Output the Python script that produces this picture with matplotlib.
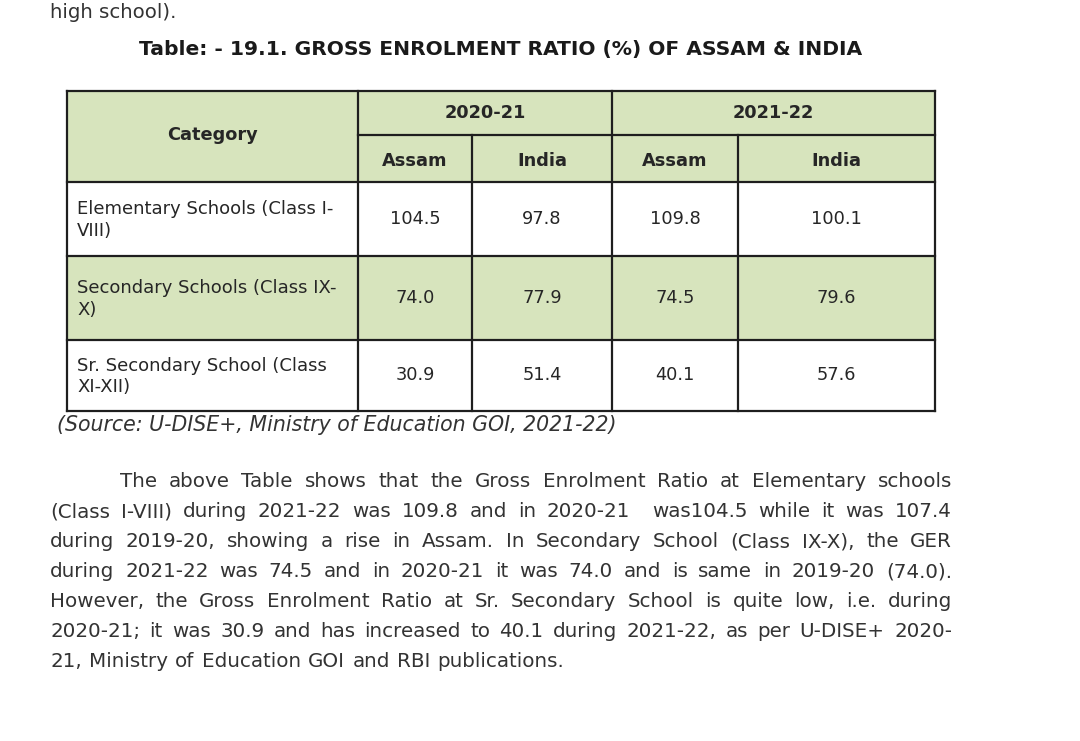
import matplotlib.pyplot as plt
from matplotlib.patches import Rectangle

plt.rcParams["font.family"] = "DejaVu Sans"

# table contents
categories = ["Elementary Schools (Class I-\nVIII)",
              "Secondary Schools (Class IX-\nX)",
              "Sr. Secondary School (Class\nXI-XII)"]
years = ["2020-21", "2021-22"]
regions = ["Assam", "India"]
assam_2021 = [104.5, 74.0, 30.9]
india_2021 = [97.8, 77.9, 51.4]
assam_2122 = [109.8, 74.5, 40.1]
india_2122 = [100.1, 79.6, 57.6]

title = "Table: - 19.1. GROSS ENROLMENT RATIO (%) OF ASSAM & INDIA"
source = "(Source: U-DISE+, Ministry of Education GOI, 2021-22)"
prev_line = "high school)."
paragraph = [
    "The above Table shows that the Gross Enrolment Ratio at Elementary schools",
    "(Class I-VIII) during 2021-22 was 109.8 and in 2020-21  was104.5 while it was 107.4",
    "during 2019-20, showing a rise in Assam. In Secondary School (Class IX-X), the GER",
    "during 2021-22 was 74.5 and in 2020-21 it was 74.0 and is same in 2019-20 (74.0).",
    "However, the Gross Enrolment Ratio at Sr. Secondary School is quite low, i.e. during",
    "2020-21; it was 30.9 and has increased to 40.1 during 2021-22, as per U-DISE+ 2020-",
    "21, Ministry of Education GOI and RBI publications.",
]

green = "#d7e4bd"
ink = "#262626"
lc = "#1e1e1e"

W, H = 1080, 741
fig = plt.figure(figsize=(W / 100, H / 100), dpi=100)
ax = fig.add_axes([0, 0, 1, 1])
ax.set_xlim(0, W)
ax.set_ylim(H, 0)
ax.axis("off")

col_x = [67, 358, 472, 612, 738, 935]
row_y = [91, 135, 182, 256, 340, 411]

# fills
ax.add_patch(Rectangle((col_x[0], row_y[0]), col_x[-1] - col_x[0], row_y[2] - row_y[0],
                       facecolor=green, edgecolor="none"))
ax.add_patch(Rectangle((col_x[0], row_y[3]), col_x[-1] - col_x[0], row_y[4] - row_y[3],
                       facecolor=green, edgecolor="none"))

lw = 1.6
# horizontal lines
for i, y in enumerate(row_y):
    x0 = col_x[1] if i == 1 else col_x[0]
    ax.plot([x0, col_x[-1]], [y, y], color=lc, lw=lw, solid_capstyle="projecting")
# vertical lines
for j, x in enumerate(col_x):
    y0 = row_y[1] if j in (2, 4) else row_y[0]
    ax.plot([x, x], [y0, row_y[-1]], color=lc, lw=lw, solid_capstyle="projecting")

head_fs = 12.8
cat_fs = 13.0
val_fs = 12.8
# header
ax.text((col_x[0] + col_x[1]) / 2, (row_y[0] + row_y[2]) / 2 - 2, "Category",
        ha="center", va="center", fontsize=head_fs, fontweight="bold", color=ink)
ax.text((col_x[1] + col_x[3]) / 2, (row_y[0] + row_y[1]) / 2, years[0],
        ha="center", va="center", fontsize=head_fs, fontweight="bold", color=ink)
ax.text((col_x[3] + col_x[5]) / 2, (row_y[0] + row_y[1]) / 2, years[1],
        ha="center", va="center", fontsize=head_fs, fontweight="bold", color=ink)
for j in range(4):
    ax.text((col_x[j + 1] + col_x[j + 2]) / 2, (row_y[1] + row_y[2]) / 2 + 2,
            regions[j % 2], ha="center", va="center", fontsize=head_fs,
            fontweight="bold", color=ink)

# body
columns = [assam_2021, india_2021, assam_2122, india_2122]
for i, cat in enumerate(categories):
    yc = (row_y[i + 2] + row_y[i + 3]) / 2
    ax.text(col_x[0] + 10, yc + 1, cat, ha="left", va="center", fontsize=cat_fs,
            color=ink, linespacing=1.25)
    for j, vals in enumerate(columns):
        ax.text((col_x[j + 1] + col_x[j + 2]) / 2, yc, f"{vals[i]:.1f}",
                ha="center", va="center", fontsize=val_fs, color=ink)

# surrounding text
ax.text(50, 12, prev_line, ha="left", va="center", fontsize=14.2, color="#333333")
ax.text(501, 49, title, ha="center", va="center", fontsize=14.6, fontweight="bold",
        color="#1a1a1a")
ax.text(57, 425, source, ha="left", va="center", fontsize=14.8, style="italic",
        color="#333333")

# justified paragraph
renderer = fig.canvas.get_renderer()
left, right = 50, 952
para_fs = 14.3
probe_a = ax.text(0, 0, "a", fontsize=para_fs)
probe_ab = ax.text(0, 0, "a b", fontsize=para_fs)
space_w = probe_ab.get_window_extent(renderer).width - 2 * probe_a.get_window_extent(renderer).width
probe_a.remove()
probe_ab.remove()
for k, line in enumerate(paragraph):
    base = 487 + k * 30.0
    x_start = 120 if k == 0 else left
    words = line.split(" ")
    texts = [ax.text(0, base, w, ha="left", va="baseline", fontsize=para_fs,
                     color="#333333") for w in words]
    widths = [t.get_window_extent(renderer).width if w else 0 for t, w in zip(texts, words)]
    if k == len(paragraph) - 1:
        gap = space_w * 1.05
    else:
        gap = (right - x_start - sum(widths)) / (len(words) - 1)
    x = x_start
    for t, wd in zip(texts, widths):
        t.set_x(x)
        x += wd + gap

fig.savefig("out.png", dpi=100, facecolor="white")
